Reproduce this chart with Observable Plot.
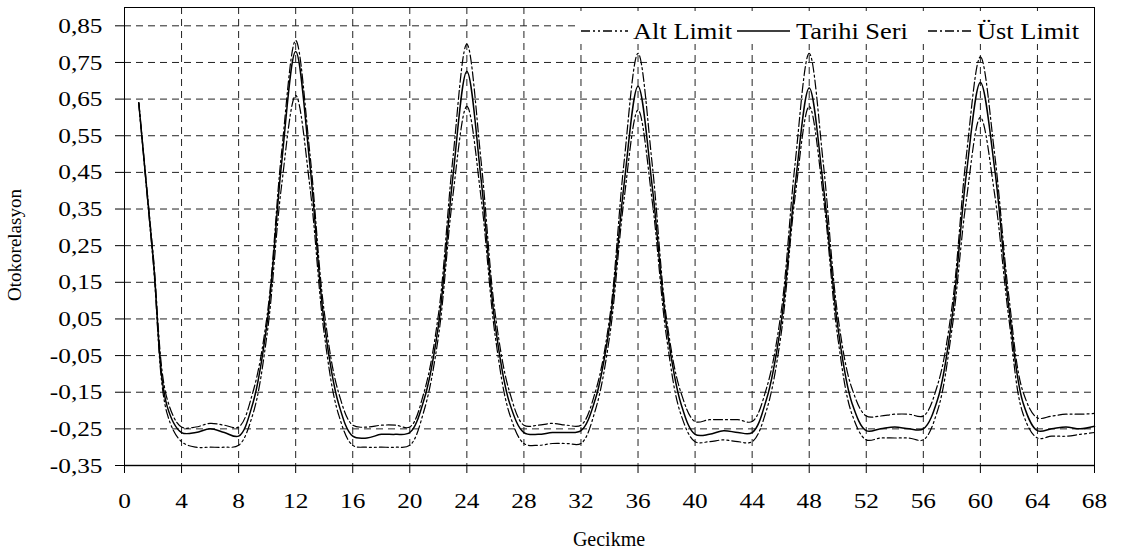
<!DOCTYPE html>
<html>
<head>
<meta charset="utf-8">
<script src="https://cdn.jsdelivr.net/npm/d3@7"></script>
<script src="https://cdn.jsdelivr.net/npm/@observablehq/plot@0.6"></script>
<style>
  html, body { margin: 0; padding: 0; background: #fff; overflow: hidden; }
  #chart { width: 1127px; height: 552px; }
</style>
</head>
<body>
<div id="chart"></div>
<script>
// ---- Data ----
const lags = d3.range(1, 69);

const tarihiSeri = [
  0.64, 0.22, -0.19, -0.26, -0.26, -0.25, -0.26, -0.27, -0.18, 0.04, 0.47, 0.78,
  0.47, 0.04, -0.18, -0.27, -0.275, -0.265, -0.265, -0.26, -0.17, 0.03, 0.43, 0.725,
  0.43, 0.03, -0.18, -0.26, -0.265, -0.26, -0.26, -0.255, -0.17, 0.03, 0.41, 0.685,
  0.41, 0.03, -0.18, -0.265, -0.265, -0.255, -0.26, -0.26, -0.17, 0.03, 0.41, 0.68,
  0.41, 0.03, -0.18, -0.255, -0.25, -0.245, -0.25, -0.25, -0.17, 0.05, 0.44, 0.695,
  0.46, 0.08, -0.18, -0.255, -0.25, -0.245, -0.25, -0.243
];

const ustLimit = [
  0.64, 0.23, -0.17, -0.245, -0.245, -0.235, -0.24, -0.245, -0.15, 0.06, 0.50, 0.81,
  0.50, 0.07, -0.15, -0.24, -0.245, -0.24, -0.24, -0.245, -0.15, 0.06, 0.48, 0.80,
  0.48, 0.06, -0.15, -0.24, -0.24, -0.235, -0.24, -0.24, -0.15, 0.05, 0.47, 0.775,
  0.47, 0.05, -0.15, -0.23, -0.225, -0.225, -0.225, -0.23, -0.14, 0.06, 0.47, 0.775,
  0.47, 0.06, -0.14, -0.215, -0.215, -0.21, -0.21, -0.215, -0.13, 0.08, 0.49, 0.765,
  0.50, 0.11, -0.15, -0.22, -0.215, -0.21, -0.21, -0.208
];

const altLimit = [
  0.64, 0.21, -0.21, -0.285, -0.30, -0.30, -0.30, -0.295, -0.21, 0.01, 0.41, 0.66,
  0.41, 0.01, -0.21, -0.295, -0.30, -0.30, -0.30, -0.295, -0.20, 0.00, 0.38, 0.63,
  0.38, 0.00, -0.21, -0.29, -0.295, -0.29, -0.29, -0.29, -0.20, 0.00, 0.37, 0.62,
  0.37, 0.00, -0.21, -0.285, -0.285, -0.28, -0.285, -0.285, -0.20, 0.00, 0.38, 0.63,
  0.38, 0.00, -0.21, -0.28, -0.275, -0.275, -0.275, -0.28, -0.20, 0.02, 0.37, 0.60,
  0.39, 0.05, -0.21, -0.275, -0.27, -0.27, -0.265, -0.26
];

const xTicks = [0, 4, 8, 12, 16, 20, 24, 28, 32, 36, 40, 44, 48, 52, 56, 60, 64, 68];
const yTicks = [-0.35, -0.25, -0.15, -0.05, 0.05, 0.15, 0.25, 0.35, 0.45, 0.55, 0.65, 0.75, 0.85];

const seriesNames = ["Alt Limit", "Tarihi Seri", "Üst Limit"];
const xLabel = "Gecikme";
const yLabel = "Otokorelasyon";

// ---- Styles ----
const dashAlt = "9,3,2,3,2,3";   // dash-dot-dot
const dashUst = "9,3,2,3";       // dash-dot
const FONT = "Liberation Serif, Times New Roman, serif";

const toRows = (vals) => lags.map((l, i) => ({ lag: l, value: vals[i] }));

const plot = Plot.plot({
  width: 1127,
  height: 552,
  marginLeft: 124,
  marginRight: 33,
  marginTop: 7,
  marginBottom: 87,
  style: { background: "white", color: "black" },
  x: { domain: [0, 68], ticks: xTicks, tickSize: 8, tickPadding: 19, label: null },
  y: { domain: [-0.35, 0.9], ticks: yTicks, tickSize: 9, tickPadding: 13, label: null,
       tickFormat: d => d.toFixed(2).replace(".", ",") },
  marks: [
    Plot.ruleX(xTicks.filter(d => d > 0 && d < 68), { stroke: "#222", strokeWidth: 1, strokeDasharray: "7,5" }),
    Plot.ruleY(yTicks.filter(d => d > -0.35), { stroke: "#222", strokeWidth: 1, strokeDasharray: "7,5" }),
    Plot.line(toRows(altLimit), { x: "lag", y: "value", stroke: "black", strokeWidth: 1.2, strokeDasharray: dashAlt, curve: "catmull-rom" }),
    Plot.line(toRows(ustLimit), { x: "lag", y: "value", stroke: "black", strokeWidth: 1.2, strokeDasharray: dashUst, curve: "catmull-rom" }),
    Plot.line(toRows(tarihiSeri), { x: "lag", y: "value", stroke: "black", strokeWidth: 1.5, curve: "catmull-rom" }),
    Plot.ruleY([-0.35], { stroke: "#333", strokeWidth: 1.6 }),
    Plot.frame({ stroke: "black", strokeWidth: 1 })
  ]
});

document.getElementById("chart").appendChild(plot);
const svgEl = plot.tagName.toLowerCase() === "svg" ? plot : plot.querySelector("svg");
svgEl.setAttribute("font-family", FONT);
svgEl.setAttribute("font-size", "22");

// Tick labels: serif font, slightly wide type as in the reference
svgEl.querySelectorAll("text").forEach(t => {
  t.style.fontFamily = FONT;
  t.style.fontSize = "22px";
  t.style.fill = "black";
  const x = parseFloat(t.getAttribute("x")) || 0;
  const tr = t.getAttribute("transform") || "";
  t.setAttribute("transform", `${tr} translate(${x},0) scale(1.15,1) translate(${-x},0)`);
});

const svg = d3.select(svgEl);

// Axis titles
svg.append("text")
  .attr("x", 609).attr("y", 546)
  .attr("text-anchor", "middle")
  .style("font-family", FONT).style("font-size", "20px").attr("fill", "black")
  .text(xLabel);

svg.append("text")
  .attr("transform", "translate(21,245) rotate(-90)")
  .attr("text-anchor", "middle")
  .style("font-family", FONT).style("font-size", "19px").attr("fill", "black")
  .text(yLabel);

// Legend (inside the plot, top right)
const lg = svg.append("g");
lg.append("rect").attr("x", 576).attr("y", 11).attr("width", 515).attr("height", 33).attr("fill", "white");
const legendItems = [
  { name: seriesNames[0], x1: 581, x2: 628, tx: 633, dash: dashAlt, w: 1.3 },
  { name: seriesNames[1], x1: 737, x2: 790, tx: 796, dash: null, w: 1.5 },
  { name: seriesNames[2], x1: 928, x2: 973, tx: 977, dash: dashUst, w: 1.3 }
];
legendItems.forEach(it => {
  const ln = lg.append("line")
    .attr("x1", it.x1).attr("x2", it.x2).attr("y1", 31).attr("y2", 31)
    .attr("stroke", "black").attr("stroke-width", it.w);
  if (it.dash) ln.attr("stroke-dasharray", it.dash);
  lg.append("text")
    .attr("transform", `translate(${it.tx},39) scale(1.15,1)`)
    .attr("text-anchor", "start")
    .style("font-family", FONT).style("font-size", "23px").attr("fill", "black")
    .text(it.name);
});
</script>
</body>
</html>
